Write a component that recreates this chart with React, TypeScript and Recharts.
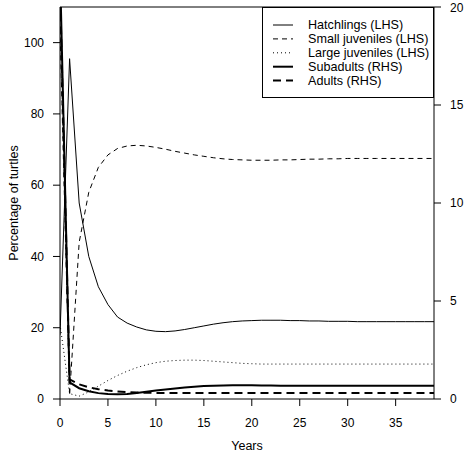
import { Line, LineChart, XAxis, YAxis, Legend, ReferenceArea } from 'recharts';

const years = [0, 1, 2, 3, 4, 5, 6, 7, 8, 9, 10, 11, 12, 13, 14, 15, 16, 17, 18, 19, 20, 21, 22, 23, 24, 25, 26, 27, 28, 29, 30, 31, 32, 33, 34, 35, 36, 37, 38, 39];

// left-hand scale (%)
const hatchlings = [18, 95.5, 55, 40, 31.5, 26.5, 23, 21.3, 20.2, 19.4, 19.0, 18.9, 19.1, 19.5, 20.0, 20.5, 21.0, 21.4, 21.7, 21.9, 22.0, 22.1, 22.1, 22.1, 22.0, 22.0, 21.9, 21.9, 21.8, 21.8, 21.8, 21.7, 21.7, 21.7, 21.7, 21.7, 21.7, 21.7, 21.7, 21.7];
const smallJuveniles = [104, 1, 44, 58, 65, 68.5, 70.3, 71.0, 71.2, 71.0, 70.6, 70.1, 69.5, 69.0, 68.5, 68.1, 67.7, 67.4, 67.2, 67.1, 67.0, 67.0, 67.0, 67.1, 67.1, 67.2, 67.3, 67.3, 67.4, 67.4, 67.5, 67.5, 67.5, 67.5, 67.5, 67.5, 67.5, 67.5, 67.5, 67.5];
const largeJuveniles = [21, 1.5, 0.8, 2.0, 3.6, 5.2, 6.6, 7.8, 8.8, 9.6, 10.2, 10.6, 10.8, 10.9, 10.9, 10.8, 10.6, 10.4, 10.2, 10.0, 9.9, 9.8, 9.8, 9.8, 9.8, 9.8, 9.8, 9.8, 9.8, 9.8, 9.8, 9.8, 9.8, 9.8, 9.8, 9.8, 9.8, 9.8, 9.8, 9.8];
// right-hand scale (%)
const subadults = [22, 0.85, 0.55, 0.4, 0.3, 0.25, 0.24, 0.26, 0.31, 0.37, 0.43, 0.49, 0.54, 0.59, 0.63, 0.66, 0.68, 0.69, 0.7, 0.7, 0.7, 0.69, 0.69, 0.68, 0.68, 0.67, 0.67, 0.67, 0.67, 0.67, 0.67, 0.67, 0.67, 0.67, 0.67, 0.67, 0.67, 0.67, 0.67, 0.67];
const adults = [21, 1.0, 0.75, 0.6, 0.5, 0.43, 0.38, 0.35, 0.33, 0.32, 0.31, 0.31, 0.31, 0.31, 0.31, 0.31, 0.31, 0.31, 0.31, 0.31, 0.31, 0.31, 0.31, 0.31, 0.31, 0.31, 0.31, 0.31, 0.31, 0.31, 0.31, 0.31, 0.31, 0.31, 0.31, 0.31, 0.31, 0.31, 0.31, 0.31];

const xTicks = [0, 5, 10, 15, 20, 25, 30, 35];
const leftTicks = [0, 20, 40, 60, 80, 100];
const rightTicks = [0, 5, 10, 15, 20];

const data = years.map((year, i) => ({
  year,
  hatchlings: hatchlings[i],
  smallJuveniles: smallJuveniles[i],
  largeJuveniles: largeJuveniles[i],
  subadults: subadults[i],
  adults: adults[i],
}));

const font = '"Liberation Sans", Arial, Helvetica, sans-serif';
const tick = { fontSize: 12, fill: '#000', fontFamily: font };

const legendItems = [
  { label: 'Hatchlings (LHS)', width: 1, dash: undefined },
  { label: 'Small juveniles (LHS)', width: 1, dash: '5 4' },
  { label: 'Large juveniles (LHS)', width: 1, dash: '1 3' },
  { label: 'Subadults (RHS)', width: 2, dash: undefined },
  { label: 'Adults (RHS)', width: 2, dash: '8 5' },
];

function LegendBox() {
  return (
    <svg width={172} height={91} style={{ display: 'block' }}>
      <rect x={0.5} y={0.5} width={171} height={90} fill="#fff" stroke="#000" />
      {legendItems.map((it, i) => {
        const y = 18 + i * 13.9;
        return (
          <g key={it.label}>
            <line x1={11} x2={31} y1={y} y2={y} stroke="#000" strokeWidth={it.width} strokeDasharray={it.dash} />
            <text x={46} y={y} dy="0.35em" fontSize={12.6} fontFamily={font} fill="#000">
              {it.label}
            </text>
          </g>
        );
      })}
    </svg>
  );
}

export default function App() {
  return (
    <div style={{ position: 'absolute', left: 0, top: 0, width: 464, height: 458, background: '#fff' }}>
      <LineChart width={464} height={458} data={data} margin={{ top: 7, right: 0, bottom: 0, left: 0 }}>
        <XAxis
          dataKey="year"
          type="number"
          domain={[0, 39]}
          ticks={xTicks}
          allowDataOverflow
          axisLine={false}
          tickLine={{ stroke: '#000' }}
          tickSize={7}
          tickMargin={12}
          tick={tick}
          height={59}
          label={{ value: 'Years', position: 'insideBottom', offset: 8, fontSize: 12.5, fill: '#000', fontFamily: font }}
        />
        <YAxis
          yAxisId="left"
          domain={[0, 110]}
          ticks={leftTicks}
          allowDataOverflow
          axisLine={false}
          tickLine={{ stroke: '#000' }}
          tickSize={7}
          tickMargin={9}
          tick={tick}
          width={60}
          label={{
            value: 'Percentage of turtles',
            angle: -90,
            position: 'insideLeft',
            offset: 14,
            fontSize: 12.5,
            fill: '#000',
            fontFamily: font,
            style: { textAnchor: 'middle' },
          }}
        />
        <YAxis
          yAxisId="right"
          orientation="right"
          domain={[0, 20]}
          ticks={rightTicks}
          allowDataOverflow
          axisLine={false}
          tickLine={{ stroke: '#000' }}
          tickSize={7}
          tickMargin={9}
          tick={tick}
          width={30}
        />
        <Line yAxisId="left" dataKey="hatchlings" stroke="#000" strokeWidth={1} dot={false} isAnimationActive={false} />
        <Line yAxisId="left" dataKey="smallJuveniles" stroke="#000" strokeWidth={1} strokeDasharray="5 4" dot={false} isAnimationActive={false} />
        <Line yAxisId="left" dataKey="largeJuveniles" stroke="#000" strokeWidth={1} strokeDasharray="1 3" dot={false} isAnimationActive={false} />
        <Line yAxisId="right" dataKey="subadults" stroke="#000" strokeWidth={2} dot={false} isAnimationActive={false} />
        <Line yAxisId="right" dataKey="adults" stroke="#000" strokeWidth={2} strokeDasharray="8 5" dot={false} isAnimationActive={false} />
        <ReferenceArea yAxisId="left" x1={0} x2={39} y1={0} y2={110} fill="none" stroke="#000" strokeWidth={1} />
        <Legend
          layout="vertical"
          align="center"
          verticalAlign="middle"
          wrapperStyle={{ position: 'absolute', left: 262, top: 7, width: 172, height: 91 }}
          content={() => <LegendBox />}
        />
      </LineChart>
    </div>
  );
}
